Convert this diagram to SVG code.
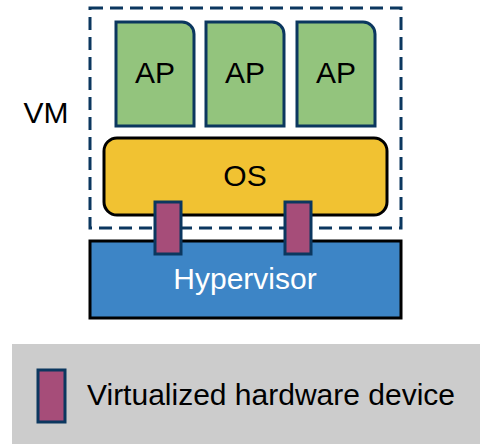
<svg xmlns="http://www.w3.org/2000/svg" width="480" height="444" viewBox="0 0 480 444">
  <style>
    .lbl { font-family: "Liberation Sans", Arial, sans-serif; font-size: 30px; fill: #000; }
    .ap { fill: #93c47d; stroke: #0b375f; stroke-width: 3; }
    .dev { fill: #a64d79; stroke: #0b375f; stroke-width: 3; }
  </style>
  <rect width="480" height="444" fill="#fff"/>

  <g id="vm">
    <rect x="90" y="8" width="311" height="220" fill="none" stroke="#0b375f" stroke-width="3" stroke-dasharray="13 7"/>
    <text class="lbl" x="46" y="123" text-anchor="middle">VM</text>
  </g>

  <g id="ap1">
    <path class="ap" d="M116 22 H182 A12 12 0 0 1 194 34 V126 H116 Z"/>
    <text class="lbl" x="155" y="83" text-anchor="middle">AP</text>
  </g>
  <g id="ap2">
    <path class="ap" d="M206 22 H272 A12 12 0 0 1 284 34 V126 H206 Z"/>
    <text class="lbl" x="245" y="83" text-anchor="middle">AP</text>
  </g>
  <g id="ap3">
    <path class="ap" d="M297 22 H363 A12 12 0 0 1 375 34 V126 H297 Z"/>
    <text class="lbl" x="336" y="83" text-anchor="middle">AP</text>
  </g>

  <g id="os">
    <rect x="104" y="138" width="283" height="77" rx="13" fill="#f1c232" stroke="#000" stroke-width="3"/>
    <text class="lbl" x="245" y="186" text-anchor="middle">OS</text>
  </g>

  <g id="hypervisor">
    <rect x="90" y="241" width="311" height="77" fill="#3d85c6" stroke="#000" stroke-width="3"/>
    <text class="lbl" x="245" y="289" text-anchor="middle" style="fill:#fff">Hypervisor</text>
  </g>

  <g id="device1">
    <rect class="dev" x="155" y="202" width="26" height="52"/>
  </g>
  <g id="device2">
    <rect class="dev" x="285" y="202" width="26" height="52"/>
  </g>

  <g id="connectors"></g>

  <g id="legend">
    <rect x="12" y="344" width="468" height="100" fill="#cccccc"/>
    <rect class="dev" x="38" y="370" width="27" height="52"/>
    <text class="lbl" x="87" y="405">Virtualized hardware device</text>
  </g>
</svg>
